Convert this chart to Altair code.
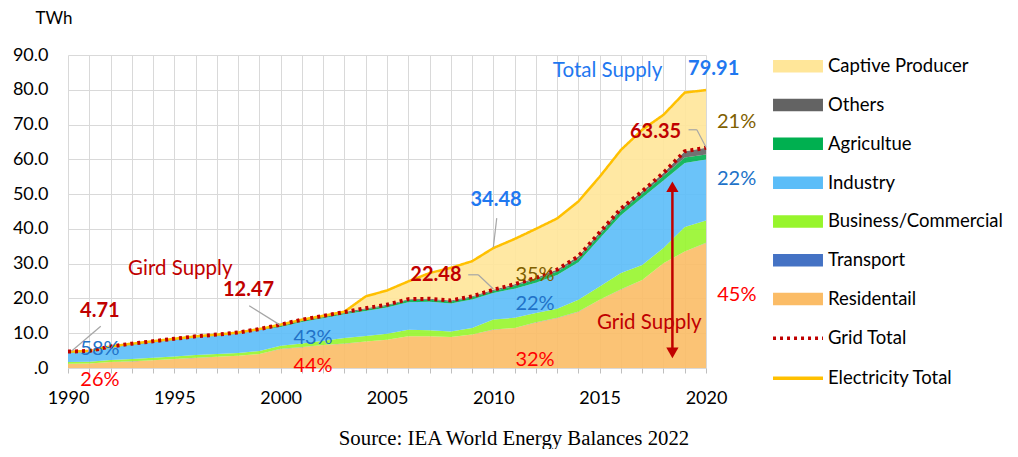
import altair as alt
import pandas as pd

years = list(range(1990, 2021))
residential = [1.22, 1.3, 1.7, 1.9, 2.2, 2.6, 2.9, 3.2, 3.5, 4.0, 5.49, 6.0, 6.6, 7.0, 7.6, 8.1,
               9.1, 9.1, 8.9, 9.6, 11.03, 11.5, 13.1, 14.4, 16.2, 19.6, 22.6, 25.3, 30.1, 33.5, 35.96]
transport = [0.02, 0.02, 0.02, 0.02, 0.02, 0.02, 0.02, 0.02, 0.02, 0.02, 0.02, 0.02, 0.02, 0.02, 0.02, 0.02,
             0.02, 0.02, 0.02, 0.02, 0.02, 0.02, 0.02, 0.02, 0.02, 0.02, 0.02, 0.02, 0.02, 0.02, 0.02]
business = [0.45, 0.5, 0.6, 0.7, 0.7, 0.7, 0.8, 0.8, 0.8, 0.9, 0.9, 1.0, 1.2, 1.6, 1.6, 1.7,
            1.9, 1.7, 1.6, 1.9, 2.9, 2.9, 2.7, 2.6, 3.4, 3.8, 4.7, 4.3, 4.4, 7.0, 6.4]
industry = [2.73, 2.8, 3.6, 4.1, 4.5, 4.8, 5.1, 5.3, 5.6, 6.0, 5.36, 6.2, 6.5, 6.8, 7.2, 7.6,
            7.9, 8.2, 8.0, 8.2, 7.59, 8.4, 8.7, 9.7, 10.8, 13.8, 16.6, 19.3, 19.4, 18.4, 17.58]
agriculture = [0.15, 0.15, 0.15, 0.15, 0.15, 0.15, 0.15, 0.15, 0.15, 0.15, 0.3, 0.3, 0.3, 0.3, 0.5, 0.5,
               0.6, 0.6, 0.6, 0.6, 0.6, 0.8, 0.9, 1.0, 1.0, 1.1, 1.2, 1.2, 1.3, 1.6, 1.4]
others = [0.14, 0.13, 0.13, 0.13, 0.13, 0.13, 0.13, 0.13, 0.13, 0.13, 0.4, 0.38, 0.38, 0.38, 0.28, 0.28,
          0.28, 0.28, 0.28, 0.28, 0.34, 0.48, 0.48, 0.58, 0.68, 0.68, 0.68, 0.68, 0.88, 1.78, 1.99]
grid_total = [4.71, 4.9, 6.2, 7.0, 7.7, 8.4, 9.1, 9.6, 10.2, 11.2, 12.47, 13.9, 15.0, 16.1, 17.2, 18.2,
              19.8, 19.9, 19.4, 20.6, 22.48, 24.1, 25.9, 28.3, 32.1, 39.0, 45.8, 50.8, 56.1, 62.3, 63.35]
elec_total = [4.71, 4.9, 6.2, 7.0, 7.7, 8.4, 9.1, 9.6, 10.2, 11.2, 12.47, 13.9, 15.0, 16.2, 20.6, 22.3,
              24.9, 27.3, 28.8, 30.7, 34.48, 37.1, 40.0, 43.0, 47.9, 55.0, 62.7, 68.5, 72.8, 79.2, 79.91]

series_names = ["Captive Producer", "Others", "Agricultue", "Industry",
                "Business/Commercial", "Transport", "Residentail"]
series_colors = ["#FFE699", "#636363", "#00B050", "#5BBDF8", "#97F52C", "#4472C4", "#FBBC66"]
line_names = ["Grid Total", "Electricity Total"]
line_colors = ["#C00000", "#FFC000"]

y_ticks = [0, 10, 20, 30, 40, 50, 60, 70, 80, 90]

# annotation texts
bold_red_text = ["4.71", "12.47", "22.48", "63.35"]
bold_red_x = [1991.5, 1998.49, 2007.3, 2017.63]
bold_red_y = [16.5, 22.5, 26.7, 67.8]
bold_blue_text = ["34.48", "79.91"]
bold_blue_x = [2010.13, 2020.36]
bold_blue_y = [48.2, 85.9]
word_text = ["Gird Supply", "Grid Supply", "Total Supply"]
word_x = [1995.28, 2017.33, 2015.37]
word_y = [28.4, 12.9, 85.3]
word_color = ["#C00000", "#C00000", "#1F78F0"]
pct_text = ["58%", "26%", "43%", "44%", "35%", "22%", "32%", "21%", "22%", "45%"]
pct_x = [1991.5, 1991.5, 2001.52, 2001.52, 2011.96, 2011.96, 2011.96, 2021.44, 2021.44, 2021.45]
pct_y = [5.5, -3.4, 8.5, 0.66, 26.8, 18.3, 2.2, 70.6, 54.3, 21.1]
pct_color = ["#2172C8", "#FF0000", "#2172C8", "#FF0000", "#7F6000", "#2172C8", "#FF0000",
             "#7F6000", "#2172C8", "#FF0000"]
# leader line segments
lead_x = [1990.16, 1998.52, 2008.82, 2009.29, 2010.16, 2019.18, 2019.57]
lead_y = [4.8, 17.9, 26.8, 26.8, 43.1, 68.5, 68.5]
lead_x2 = [1991.54, 1999.96, 2009.29, 2010.0, 2010.0, 2019.57, 2020.0]
lead_y2 = [12.0, 12.4, 26.8, 22.7, 34.7, 68.5, 63.5]
# grid supply arrow
arrow_x = [2018.42]
arrow_low = [4.34]
arrow_high = [52.1]

order_map = {n: i for i, n in enumerate(reversed(series_names))}
captive = [round(e - g, 3) for e, g in zip(elec_total, grid_total)]
stack_vals = {"Residentail": residential, "Transport": transport, "Business/Commercial": business,
              "Industry": industry, "Agricultue": agriculture, "Others": others,
              "Captive Producer": captive}
rows = []
for name, vals in stack_vals.items():
    for yr, v in zip(years, vals):
        rows.append({"year": yr, "value": v, "series": name, "ord": order_map[name]})
area_df = pd.DataFrame(rows)

line_rows = []
for name, vals in [("Grid Total", grid_total), ("Electricity Total", elec_total)]:
    for yr, v in zip(years, vals):
        line_rows.append({"year": yr, "value": v, "series": name})
line_df = pd.DataFrame(line_rows)

x_scale = alt.Scale(domain=[1990, 2020], nice=False, zero=False)
y_scale = alt.Scale(domain=[0, 90], nice=False)

x_axis = alt.Axis(values=years, format="d",
                  labelExpr="datum.value % 5 === 0 ? datum.label : ''",
                  grid=True, gridColor="#D9D9D9", domain=False, tickColor="#BFBFBF",
                  tickSize=5, labelFontSize=18, labelColor="black", labelPadding=16,
                  title=None, labelFlush=False, labelOverlap=False)
y_axis = alt.Axis(values=y_ticks,
                  labelExpr="datum.value === 0 ? '.0' : format(datum.value, '.1f')",
                  grid=True, gridColor="#D9D9D9", domain=False, ticks=False,
                  labelPadding=20, labelFontSize=18, labelColor="black", labelOverlap=False,
                  title="TWh", titleAngle=0, titleX=-33, titleY=-37, titleAlign="left",
                  titleBaseline="middle", titleFontSize=17, titleFontWeight="normal",
                  titleColor="black")


def xq(field):
    return alt.X(field, scale=x_scale, axis=x_axis)


def yq(field, **kw):
    return alt.Y(field, scale=y_scale, axis=y_axis, **kw)


area = alt.Chart(area_df).mark_area(fillOpacity=0.9, strokeWidth=0).encode(
    x=xq("year:Q"),
    y=yq("value:Q", stack="zero"),
    color=alt.Color("series:N", scale=alt.Scale(domain=series_names, range=series_colors),
                    legend=alt.Legend(orient="none", legendX=720.75, legendY=2, title=None,
                                      symbolType="M-4,-1H4V1H-4Z", symbolSize=156,
                                      symbolStrokeWidth=0, symbolOpacity=1,
                                      labelFontSize=18.5, labelOffset=20.75, rowPadding=19.8,
                                      labelColor="black", labelLimit=300, padding=0)),
    order=alt.Order("ord:Q", sort="ascending"),
)

line_legend = alt.Legend(orient="none", legendX=720.75, legendY=274, title=None,
                         symbolType="M-4,0H4", symbolSize=156, symbolStrokeWidth=3.5,
                         labelFontSize=18.5, labelOffset=20.75, rowPadding=21.0,
                         labelColor="black", labelLimit=300, padding=0)
stroke_enc = alt.Stroke("series:N", scale=alt.Scale(domain=line_names, range=line_colors),
                        legend=line_legend)
dash_enc = alt.StrokeDash("series:N", scale=alt.Scale(domain=line_names, range=[[3, 4], [1, 0]]),
                          legend=line_legend)

elec_line = alt.Chart(line_df).transform_filter(alt.datum.series == "Electricity Total").mark_line(
    strokeWidth=2.5).encode(x=xq("year:Q"), y=yq("value:Q"), stroke=stroke_enc,
                            strokeDash=dash_enc)
grid_line = alt.Chart(line_df).transform_filter(alt.datum.series == "Grid Total").mark_line(
    strokeWidth=4).encode(x=xq("year:Q"), y=yq("value:Q"), stroke=stroke_enc,
                          strokeDash=dash_enc)

lead_df = pd.DataFrame({"x": lead_x, "y": lead_y, "x2": lead_x2, "y2": lead_y2})
leaders = alt.Chart(lead_df).mark_rule(color="#A6A6A6", strokeWidth=1.2).encode(
    x=xq("x:Q"), y=yq("y:Q"), x2="x2:Q", y2="y2:Q")

arrow_df = pd.DataFrame({"x": arrow_x, "lo": arrow_low, "hi": arrow_high})
arrow_rule = alt.Chart(arrow_df).mark_rule(color="#C00000", strokeWidth=2.5).encode(
    x=xq("x:Q"), y=yq("lo:Q"), y2="hi:Q")
arrow_up = alt.Chart(arrow_df).mark_point(shape="triangle-up", filled=True, size=150,
                                          color="#C00000", opacity=1).encode(
    x=xq("x:Q"), y=yq("hi:Q"))
arrow_down = alt.Chart(arrow_df).mark_point(shape="triangle-down", filled=True, size=150,
                                            color="#C00000", opacity=1).encode(
    x=xq("x:Q"), y=yq("lo:Q"))


def text_layer(texts, xs, ys, colors, size, weight):
    df = pd.DataFrame({"t": texts, "x": xs, "y": ys, "c": colors})
    return alt.Chart(df).mark_text(fontSize=size, fontWeight=weight, align="center",
                                   baseline="middle").encode(
        x=xq("x:Q"), y=yq("y:Q"), text="t:N",
        fill=alt.Fill("c:N", scale=None))


t_bold_red = text_layer(bold_red_text, bold_red_x, bold_red_y, ["#C00000"] * len(bold_red_text), 20, "bold")
t_bold_blue = text_layer(bold_blue_text, bold_blue_x, bold_blue_y, ["#1F78F0"] * len(bold_blue_text), 20, "bold")
t_words = text_layer(word_text, word_x, word_y, word_color, 20.5, "normal")
t_pct = text_layer(pct_text, pct_x, pct_y, pct_color, 20, "normal")

chart = alt.layer(
    area, elec_line, grid_line, leaders, arrow_rule, arrow_up, arrow_down,
    t_bold_red, t_bold_blue, t_words, t_pct
).properties(
    width=638, height=313,
    autosize=alt.AutoSizeParams(type="none"),
    padding={"left": 60, "top": 47, "right": 304, "bottom": 81},
    title=alt.TitleParams("Source: IEA World Energy Balances 2022", orient="bottom",
                          anchor="middle", frame="group", font="Liberation Serif",
                          fontSize=20.8, fontWeight="normal", color="black", dx=127, offset=22),
).configure(font="Lato").configure_view(stroke=None)

chart.save("out.html", embed_options={"renderer": "svg", "actions": False})
